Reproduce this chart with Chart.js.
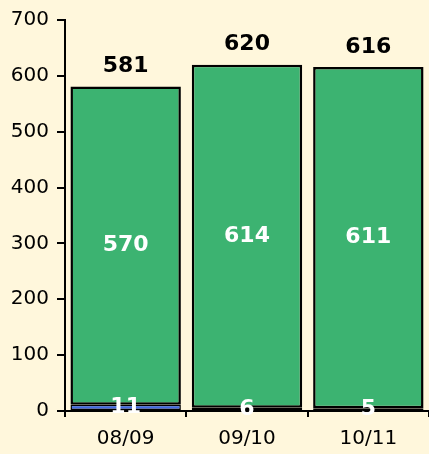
<!DOCTYPE html>
<html>
<head>
<meta charset="utf-8">
<script src="https://cdn.jsdelivr.net/npm/chart.js@4.4.0/dist/chart.umd.min.js"></script>
<style>
  html, body { margin: 0; padding: 0; background: #FFF7DC; }
  #wrap { width: 429px; height: 454px; }
</style>
</head>
<body>
<div id="wrap"><canvas id="myChart" width="429" height="454"></canvas></div>
<script>
// data
var categories = ['08/09', '09/10', '10/11'];
var blueValues = [11, 6, 5];
var greenValues = [570, 614, 611];
var totals = [581, 620, 616];
var yTicks = [0, 100, 200, 300, 400, 500, 600, 700];

var FONT = "'DejaVu Sans', Verdana, sans-serif";

// draws the numbers on and above the bars
var barLabels = {
  id: 'barLabels',
  afterDatasetsDraw: function (chart) {
    var ctx = chart.ctx;
    ctx.save();
    ctx.font = 'bold 22px ' + FONT;
    ctx.textAlign = 'center';
    ctx.textBaseline = 'middle';
    chart.data.datasets.forEach(function (ds, i) {
      var meta = chart.getDatasetMeta(i);
      meta.data.forEach(function (bar, j) {
        var y = (bar.y + bar.base) / 2;
        ctx.fillStyle = '#ffffff';
        ctx.fillText(ds.data[j], bar.x, y);
      });
    });
    // totals on top
    var top = chart.getDatasetMeta(chart.data.datasets.length - 1);
    top.data.forEach(function (bar, j) {
      ctx.fillStyle = '#000000';
      ctx.fillText(totals[j], bar.x, bar.y - 20);
    });
    ctx.restore();
  }
};

var ctx = document.getElementById('myChart').getContext('2d');
var myChart = new Chart(ctx, {
  type: 'bar',
  data: {
    labels: categories,
    datasets: [{
      label: 'blue',
      data: blueValues,
      backgroundColor: '#4169E1',
      borderColor: '#000000',
      borderWidth: 1.5,
      borderSkipped: false,
      categoryPercentage: 1,
      barPercentage: 0.91
    }, {
      label: 'green',
      data: greenValues,
      backgroundColor: '#3CB371',
      borderColor: '#000000',
      borderWidth: 2.5,
      borderSkipped: false,
      categoryPercentage: 1,
      barPercentage: 0.91
    }]
  },
  options: {
    responsive: false,
    animation: false,
    layout: { padding: { top: 15, right: 0, bottom: 0, left: 0 } },
    plugins: {
      legend: { display: false },
      title: { display: false },
      tooltip: { enabled: false }
    },
    scales: {
      x: {
        stacked: true,
        grid: {
          offset: true,
          drawOnChartArea: false,
          drawTicks: true,
          tickLength: 6,
          color: '#000000',
          lineWidth: 2
        },
        border: { display: true, color: '#000000', width: 2 },
        ticks: {
          color: '#000000',
          font: { family: FONT, size: 20 },
          padding: 10,
          maxRotation: 0
        },
        afterFit: function (scale) { scale.height = 43; }
      },
      y: {
        stacked: true,
        min: 0,
        max: 700,
        afterBuildTicks: function (scale) {
          scale.ticks = yTicks.map(function (v) { return { value: v }; });
        },
        grid: {
          drawOnChartArea: false,
          drawTicks: true,
          tickLength: 8,
          color: '#000000',
          lineWidth: 2
        },
        border: { display: true, color: '#000000', width: 2 },
        ticks: {
          color: '#000000',
          font: { family: FONT, size: 20 },
          padding: 8
        },
        afterFit: function (scale) { scale.width = 65; }
      }
    }
  },
  plugins: [barLabels]
});
</script>
</body>
</html>
